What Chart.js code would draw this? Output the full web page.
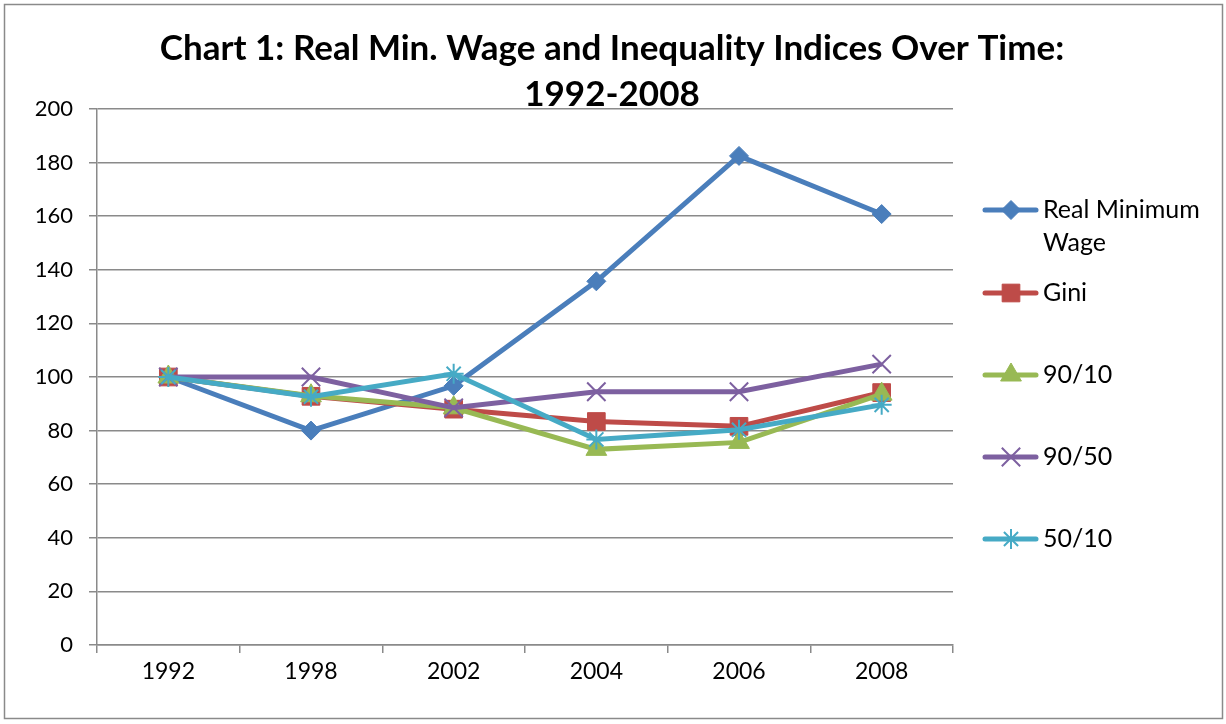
<!DOCTYPE html>
<html>
<head>
<meta charset="utf-8">
<script src="https://cdn.jsdelivr.net/npm/chart.js@4"></script>
<style>
  body { margin: 0; background: #fff; }
  #wrap { width: 1226px; height: 724px; }
</style>
</head>
<body>
<div id="wrap"><canvas id="myChart" width="1226" height="724"></canvas></div>
<script>
'use strict';
// data
let years = ['1992', '1998', '2002', '2004', '2006', '2008'];
let minWage = [100, 80, 96.7, 135.7, 182.5, 160.8];
let gini = [100, 92.8, 88, 83.4, 81.6, 94.2];
let p9010 = [100, 93, 88.5, 73, 75.6, 93.6];
let p9050 = [100, 100, 88.5, 94.5, 94.5, 104.8];
let p5010 = [100, 92.6, 101.2, 76.7, 80.3, 89.6];
let yTicks = [0, 20, 40, 60, 80, 100, 120, 140, 160, 180, 200];

let names = [['Real Minimum', 'Wage'], ['Gini'], ['90/10'], ['90/50'], ['50/10']];
let colors = ['#4A7EBB', '#BE4B48', '#98B954', '#7D60A0', '#46AAC5'];
let markers = ['rectRot', 'rect', 'triangle', 'crossRot', 'star'];
let sizes = [9.5, 12.5, 12, 13, 10];
let series = [minWage, gini, p9010, p9050, p5010];
let fontName = 'Lato, "Open Sans", sans-serif';

function isLineMark(m) { return m === 'crossRot' || m === 'star'; }

let datasets = [];
for (let i = 0; i < series.length; i++) {
  datasets.push({
    label: names[i].join(' '),
    data: series[i],
    order: series.length - i, // later series on top, like the original
    borderColor: colors[i],
    backgroundColor: colors[i],
    borderWidth: 5,
    pointStyle: markers[i],
    pointRadius: sizes[i],
    pointBorderColor: colors[i],
    pointBackgroundColor: colors[i],
    pointBorderWidth: isLineMark(markers[i]) ? 2 : 1,
    tension: 0
  });
}

// title, legend and frame drawn by hand
let decor = {
  id: 'decor',
  beforeDraw(chart) {
    let c = chart.ctx;
    c.save();
    c.fillStyle = '#fff';
    c.fillRect(0, 0, chart.width, chart.height);
    c.strokeStyle = '#8a8a8a';
    c.lineWidth = 1.5;
    c.strokeRect(4.5, 4.5, 1218, 714);
    c.restore();
  },
  afterDraw(chart) {
    let c = chart.ctx;
    c.save();
    c.fillStyle = '#000';
    c.textAlign = 'center';
    c.textBaseline = 'middle';
    c.font = 'bold 35px ' + fontName;
    c.fillText('Chart 1: Real Min. Wage and Inequality Indices Over Time:', 612, 49);
    c.fillText('1992-2008', 612, 95);

    let rows = [210, 293, 375, 457, 539];
    c.textAlign = 'left';
    c.font = '25px ' + fontName;
    for (let i = 0; i < rows.length; i++) {
      let y = rows[i];
      c.strokeStyle = colors[i];
      c.lineWidth = 5;
      c.lineCap = 'round';
      c.beginPath();
      c.moveTo(985, y);
      c.lineTo(1036, y);
      c.stroke();
      c.lineCap = 'butt';
      c.fillStyle = colors[i];
      c.lineWidth = isLineMark(markers[i]) ? 2 : 1;
      Chart.helpers.drawPoint(c, {
        pointStyle: markers[i],
        radius: sizes[i],
        borderWidth: isLineMark(markers[i]) ? 2 : 1
      }, 1011, y);
      c.fillStyle = '#000';
      for (let k = 0; k < names[i].length; k++) {
        c.fillText(names[i][k], 1043, y + k * 33);
      }
    }
    c.restore();
  }
};

let ctx = document.getElementById('myChart').getContext('2d');
let myChart = new Chart(ctx, {
  type: 'line',
  data: { labels: years, datasets: datasets },
  plugins: [decor],
  options: {
    responsive: false,
    animation: false,
    layout: { padding: { top: 109, right: 273, bottom: 39, left: 0 } },
    plugins: {
      legend: { display: false },
      title: { display: false },
      tooltip: { enabled: false }
    },
    scales: {
      x: {
        offset: true,
        afterFit: function (scale) { scale.height = 40; },
        grid: { offset: true, drawOnChartArea: false, color: '#8a8a8a', tickLength: 8, lineWidth: 1.5 },
        border: { color: '#8a8a8a', width: 1.5 },
        ticks: { color: '#000', font: { family: fontName, size: 23 }, padding: 5 }
      },
      y: {
        min: 0,
        max: 200,
        afterFit: function (scale) { scale.width = 97; },
        afterBuildTicks: function (scale) { scale.ticks = yTicks.map(v => ({ value: v })); },
        grid: { color: '#8a8a8a', tickLength: 8, lineWidth: 1.5 },
        border: { color: '#8a8a8a', width: 1.5 },
        ticks: { color: '#000', font: { family: fontName, size: 22 }, padding: 16 }
      }
    }
  }
});
</script>
</body>
</html>
